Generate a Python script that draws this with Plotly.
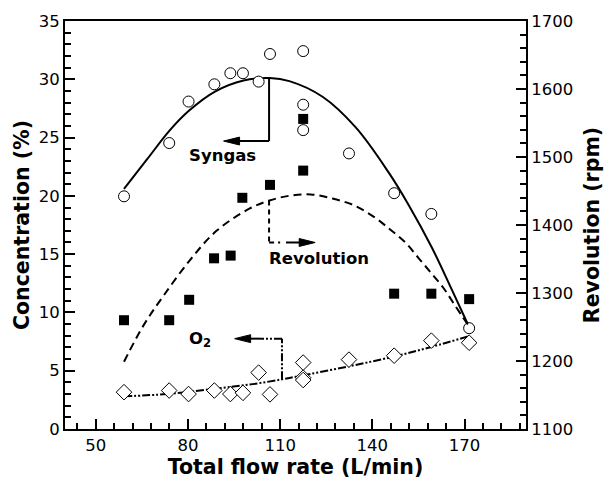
import plotly.graph_objects as go

# Measured points
flow_syngas = [59.2, 73.9, 80.2, 88.6, 93.8, 97.9, 103.0, 106.7, 117.5, 117.5, 117.5, 132.4, 147.1, 159.2, 171.5]
syngas = [19.96, 24.53, 28.09, 29.57, 30.52, 30.52, 29.8, 32.17, 32.42, 27.82, 25.64, 23.64, 20.23, 18.45, 8.65]

flow_rev = [59.2, 73.9, 80.4, 88.5, 93.9, 97.7, 106.7, 117.5, 117.5, 147.1, 159.2, 171.5]
revolution = [1260, 1260, 1290, 1351, 1355, 1440, 1459, 1556, 1480, 1299, 1299, 1291]

flow_o2 = [59.2, 73.9, 80.2, 88.6, 93.8, 97.9, 103.0, 106.7, 117.5, 117.5, 117.5, 132.4, 147.1, 159.2, 171.5]
o2 = [3.16, 3.3, 3.0, 3.3, 3.0, 3.1, 4.84, 2.97, 5.7, 4.4, 4.2, 5.95, 6.29, 7.58, 7.4]

# Fitted trend curves
fit_x_syngas = [59.2, 66.6, 74.0, 80.3, 88.8, 98.1, 106.6, 113.0, 123.8, 134.6, 145.4, 151.9, 159.4, 165.9, 171.3]
fit_syngas = [20.6, 23.1, 25.6, 27.3, 28.95, 29.9, 30.1, 29.84, 28.5, 25.87, 21.97, 19.18, 15.55, 11.93, 8.86]

fit_x_rev = [59.2, 65.5, 71.9, 80.6, 89.2, 100.0, 106.5, 113.0, 120.0, 127.0, 134.0, 140.5,
             145.9, 150.8, 155.1, 159.4, 163.2, 167.0, 171.3]
fit_rev = [1199, 1252, 1295, 1348, 1391, 1424, 1436, 1443, 1445, 1439, 1429, 1412,
           1393, 1374, 1351, 1328, 1307, 1281, 1252]

fit_x_o2 = [59.2, 73.0, 88.1, 101.1, 110.6, 116.2, 132.4, 147.1, 159.4, 171.5]
fit_o2 = [2.8, 3.0, 3.43, 3.85, 4.26, 4.54, 5.38, 6.22, 7.06, 7.97]

x_ticks = [50, 80, 110, 140, 170]

TICK_FONT = dict(family="DejaVu Sans", size=16.5, color="black")
TITLE_FONT = dict(family="DejaVu Sans", size=20.5, color="black", weight="bold")
LABEL_FONT = dict(family="DejaVu Sans", size=16.5, color="black", weight="bold")
DASHDOTDOT = "8px,2px,2px,2px,2px,2px"
BLACK = dict(color="black", width=2)

fig = go.Figure()

fig.add_trace(go.Scatter(x=fit_x_syngas, y=fit_syngas, mode="lines",
                         line=dict(color="black", width=2, shape="spline"), showlegend=False))
fig.add_trace(go.Scatter(x=fit_x_rev, y=fit_rev, mode="lines", yaxis="y2",
                         line=dict(color="black", width=2, dash="8px,5px", shape="spline"), showlegend=False))
fig.add_trace(go.Scatter(x=fit_x_o2, y=fit_o2, mode="lines",
                         line=dict(color="black", width=2, dash=DASHDOTDOT, shape="spline"), showlegend=False))

fig.add_trace(go.Scatter(x=flow_syngas, y=syngas, mode="markers",
                         marker=dict(symbol="circle", size=11, color="white",
                                     line=dict(color="black", width=1)), showlegend=False))
fig.add_trace(go.Scatter(x=flow_rev, y=revolution, mode="markers", yaxis="y2",
                         marker=dict(symbol="square", size=10, color="black",
                                     line=dict(color="black", width=0)), showlegend=False))
fig.add_trace(go.Scatter(x=flow_o2, y=o2, mode="markers",
                         marker=dict(symbol="diamond", size=12, color="white",
                                     line=dict(color="black", width=1)), showlegend=False))


def head(tip_x, tip_y, direction):
    """Filled triangular arrowhead (about 16 px long, 8 px wide)."""
    base_x = tip_x + 5.2 * direction
    return dict(type="path", path=f"M {tip_x},{tip_y} L {base_x},{tip_y + 0.34} L {base_x},{tip_y - 0.34} Z",
                fillcolor="black", line=dict(color="black", width=1))


# Leader lines pointing each curve to its axis
shapes = [
    # Syngas -> left axis
    dict(type="line", x0=106.4, x1=106.4, y0=30.1, y1=24.7, line=BLACK),
    dict(type="line", x0=106.4, x1=96.0, y0=24.7, y1=24.7, line=BLACK),
    head(91.6, 24.7, 1),
    # Revolution -> right axis
    dict(type="line", x0=106.4, x1=106.4, y0=19.6, y1=16.0, line=dict(color="black", width=2, dash="5px,4px")),
    dict(type="line", x0=106.4, x1=110.0, y0=16.0, y1=16.0, line=dict(color="black", width=2, dash="5px,4px")),
    dict(type="line", x0=111.9, x1=117.0, y0=16.0, y1=16.0, line=BLACK),
    head(121.4, 16.0, -1),
    # O2 -> left axis
    dict(type="line", x0=110.6, x1=110.6, y0=4.26, y1=7.75, line=dict(color="black", width=2, dash=DASHDOTDOT)),
    dict(type="line", x0=110.6, x1=103.8, y0=7.75, y1=7.75, line=dict(color="black", width=2, dash=DASHDOTDOT)),
    dict(type="line", x0=103.8, x1=99.6, y0=7.75, y1=7.75, line=BLACK),
    head(95.2, 7.75, 1),
]

annotations = [
    dict(x=91.1, y=23.5, text="Syngas", showarrow=False, font=LABEL_FONT),
    dict(x=122.8, y=14.6, text="Revolution", showarrow=False, font=LABEL_FONT),
    dict(x=83.9, y=7.7, text="O<sub>2</sub>", showarrow=False, font=LABEL_FONT),
]

fig.update_layout(
    width=612, height=487,
    margin=dict(l=65, r=84, t=14, b=54),
    paper_bgcolor="white", plot_bgcolor="white",
    shapes=shapes, annotations=annotations,
    xaxis=dict(range=[40, 190], tickvals=x_ticks, ticks="inside", ticklen=10, tickwidth=1.5,
               tickcolor="black", showline=True, linewidth=2, linecolor="black", mirror=True,
               showgrid=False, zeroline=False, tickfont=TICK_FONT,
               minor=dict(dtick=6, tick0=50, ticks="inside", ticklen=6, tickwidth=1.5,
                          tickcolor="black", showgrid=False),
               title=dict(text="Total flow rate (L/min)", font=TITLE_FONT, standoff=6)),
    yaxis=dict(range=[0, 35], dtick=5, ticks="inside", ticklen=10, tickwidth=1.5,
               tickcolor="black", showline=True, linewidth=2, linecolor="black",
               showgrid=False, zeroline=False, tickfont=TICK_FONT,
               minor=dict(dtick=1, ticks="inside", ticklen=6, tickwidth=1.5,
                          tickcolor="black", showgrid=False),
               title=dict(text="Concentration (%)", font=TITLE_FONT, standoff=4)),
    yaxis2=dict(range=[1100, 1700], dtick=100, overlaying="y", side="right", ticks="inside",
                ticklen=10, tickwidth=1.5, tickcolor="black", showline=True, linewidth=2,
                linecolor="black", showgrid=False, zeroline=False, tickfont=TICK_FONT,
                minor=dict(dtick=20, ticks="inside", ticklen=6, tickwidth=1.5,
                           tickcolor="black", showgrid=False),
                title=dict(text="Revolution (rpm)", font=TITLE_FONT, standoff=12)),
)

fig.write_html("out.html")
